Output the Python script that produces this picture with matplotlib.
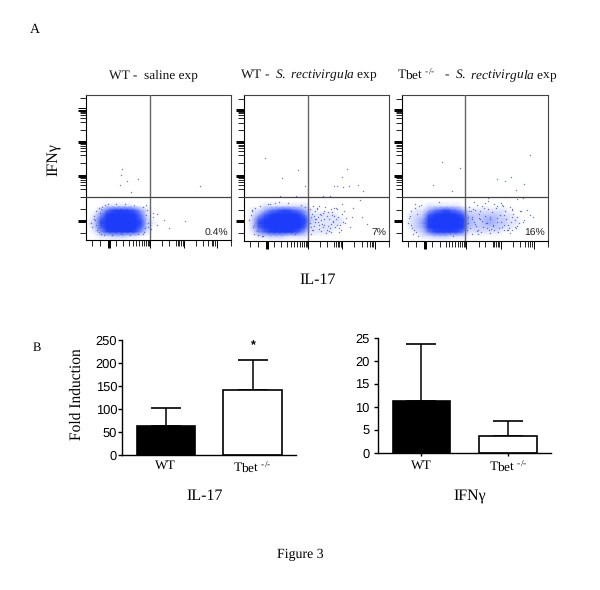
import numpy as np
import matplotlib
matplotlib.use("Agg")
import matplotlib.pyplot as plt
from matplotlib.colors import LinearSegmentedColormap

plt.rcParams['font.family'] = ['Liberation Serif', 'DejaVu Sans']
plt.rcParams['mathtext.fontset'] = 'custom'
plt.rcParams['mathtext.rm'] = 'Liberation Serif'
plt.rcParams['mathtext.it'] = 'Liberation Serif:italic'
plt.rcParams['text.hinting'] = 'none'

W, H = 600, 590

# ---- flow cytometry panels: channel units 0-1000 ----
titles = ['WT -  saline exp',
          r'WT -  $\mathit{S.\ rectivirgula}$ exp',
          r'Tbet $^{\text{-/-}}$   -  $\mathit{S.\ rectivirgula}$ exp']
percent = ['0.4%', '7%', '16%']
gate_x = [439, 440, 430]
gate_y = [297, 297, 297]

density_y = [0, 30, 60, 90, 120, 150, 180, 210, 240, 270]

density_1 = [
    [0,0,0,0,0,0,0,0,0,0,0,0,0],
    [0,0,1,1,2,2,2,1,1,0,0,0,0],
    [0,1,4,7,9,9,9,9,7,4,1,0,0],
    [0,2,6,9,9,9,9,9,9,6,2,0,0],
    [1,2,7,9,9,9,9,9,9,7,2,1,0],
    [0,2,6,9,9,9,9,9,9,6,2,0,0],
    [0,1,4,8,9,9,9,9,8,5,1,0,0],
    [0,0,2,5,7,8,8,7,6,3,1,0,0],
    [0,0,0,1,1,1,1,1,0,0,0,0,0],
    [0,0,0,0,0,0,0,0,0,0,0,0,0],
]
density_2 = [
    [0,0,0,0,0,0,0,0,0,0,0,0,0,0,0,0,0,0,0],
    [0,0,1,1,2,2,2,1,1,1,1,0,0,0,0,0,0,0,0],
    [0,1,4,6,8,9,9,9,8,6,3,1,1,1,1,0,0,0,0],
    [0,2,6,8,9,9,9,9,9,9,6,1,1,1,1,1,0,0,0],
    [0,2,7,9,9,9,9,9,9,9,7,2,1,1,1,1,1,0,0],
    [0,2,6,8,9,9,9,9,9,9,7,2,1,1,1,1,1,0,0],
    [0,1,3,6,8,9,9,9,9,8,5,1,1,1,1,1,0,0,0],
    [0,1,1,3,5,6,7,7,6,5,3,1,0,0,0,0,0,0,0],
    [0,0,0,1,1,1,1,1,1,1,1,0,0,0,0,0,0,0,0],
    [0,0,0,0,0,0,0,0,0,0,0,0,0,0,0,0,0,0,0],
]
density_3 = [
    [0,0,0,0,0,0,0,0,0,0,0,0,0,0,0,0,0,0,0,0,0,0,0],
    [0,0,0,1,1,2,2,2,1,1,1,0,0,0,0,0,0,0,0,0,0,0,0],
    [0,0,1,2,5,7,8,8,8,7,5,1,1,1,1,1,1,0,0,0,0,0,0],
    [0,1,2,3,8,9,9,9,9,9,8,2,2,2,2,2,2,1,1,0,0,0,0],
    [0,1,2,4,8,9,9,9,9,9,8,3,2,2,3,3,2,2,1,1,0,0,0],
    [0,1,2,3,8,9,9,9,9,9,8,3,2,2,3,3,2,2,1,1,0,0,0],
    [0,1,1,2,6,8,9,9,9,8,6,2,2,2,2,2,2,1,1,0,0,0,0],
    [0,0,1,1,3,5,6,7,6,5,3,1,1,1,1,1,1,1,0,0,0,0,0],
    [0,0,0,0,1,1,1,1,1,1,0,0,0,0,0,0,0,0,0,0,0,0,0],
    [0,0,0,0,0,0,0,0,0,0,0,0,0,0,0,0,0,0,0,0,0,0,0],
]
densities = [density_1, density_2, density_3]

dots_x_1 = [244,240,355,233,786,279,306,682,537,486,459,463,440,574,429,486,60,40,70,90,400,420,410,75,100,
            55,35,65,95,85,110,130,125,150,180,205,240,265,300,330,360,395,415,425,405,445,395,55,80,105]
dots_y_1 = [487,449,419,380,373,407,330,130,140,108,185,162,105,82,94,181,140,95,205,225,60,210,240,70,45,
            165,120,105,190,60,230,245,40,250,38,252,42,248,36,246,44,232,175,120,88,75,45,150,85,215]
dots_x_2 = [143,372,257,706,671,418,618,637,683,724,786,821,591,545,246,356,740,809,844,752,798,694,729,671,
            470,500,530,555,590,620,650,480,510,545,575,610,640,690,460,495,530,600,30,60,85,50,75,120,160,210,
            452,466,478,490,505,518,527,542,552,568,583,597,612,626,635,648,662,675,455,472,488,512,536,560,
            585,605,630,655,678,700,462,485,515,548,572,595,618,642,668,458,475,498,522,550,578,602,
            70,95,45,105,130,180,240,300,350,390,420,65,55]
dots_y_2 = [564,486,429,491,440,376,376,372,367,372,383,342,307,303,307,303,165,165,115,222,280,119,96,252,
            75,215,65,230,85,225,60,170,125,95,195,130,110,200,45,150,175,60,140,90,65,200,225,30,250,255,
            120,185,100,205,160,80,140,190,110,170,65,215,135,90,225,160,105,185,215,70,150,235,115,50,
            150,195,145,85,125,155,95,130,105,205,75,115,170,215,70,165,240,225,185,150,100,175,
            45,38,175,235,35,250,262,255,42,245,230,110,210]
dots_x_3 = [275,396,208,343,876,746,705,648,837,780,590,705,785,831,739,522,876,854,899,750,
            460,480,510,540,570,600,630,660,690,720,750,780,810,470,520,560,610,650,700,755,
            790,830,40,70,95,55,85,110,130,495,590,675,350,250,
            448,455,468,478,490,498,505,515,528,535,548,555,565,578,585,595,605,618,625,640,
            648,662,670,682,695,705,715,728,738,745,760,772,785,798,815,835,
            452,475,500,525,550,575,600,625,650,675,700,725,750,775,445,488,532,582,632,682,732,
            60,48,80,100,75,115,60,90]
dots_y_3 = [539,498,383,342,585,440,410,424,388,349,291,300,289,291,50,44,177,211,165,73,
            230,45,245,60,255,52,250,60,235,70,220,85,200,205,75,225,80,240,75,210,
            100,130,120,85,60,170,225,35,245,262,270,260,30,262,
            120,200,85,165,130,210,100,65,185,145,235,90,170,120,215,75,150,195,105,225,
            130,85,175,245,110,200,150,70,230,125,185,95,160,120,205,140,
            160,145,115,155,135,120,165,100,155,130,175,110,165,140,70,215,205,85,70,95,85,
            200,155,70,185,45,240,105,250]
dots_x = [dots_x_1, dots_x_2, dots_x_3]
dots_y = [dots_y_1, dots_y_2, dots_y_3]

x_ticks_long = [147,154,161,440,677,901]
x_ticks_short = [41,94,207,256,297,320,343,364,382,399,412,424,433,523,569,620,631,643,654,666,758,809,843,866,878,889,1000]
y_ticks_long = [906,899,892,682,675,668,449,442,435,140,133,126]
y_ticks_short = [975,885,875,860,840,810,760,660,650,635,615,585,530,428,418,403,383,353,297,213,53]

# ---- bar panels ----
bar_labels = ['WT', r'Tbet $^{\text{-/-}}$']
il17_values = [62, 140]
il17_errors = [40, 65]
ifng_values = [11.4, 3.6]
ifng_errors = [12.2, 3.4]
il17_ticks = [0, 50, 100, 150, 200, 250]
ifng_ticks = [0, 5, 10, 15, 20, 25]
bar_colors = ['black', 'white']

fig = plt.figure(figsize=(6, 5.9), dpi=100)

def px_axes(left, top, right, bottom):
    return fig.add_axes([left / W, 1 - bottom / H, (right - left) / W, (bottom - top) / H])

def px_text(x, y, s, **kw):
    kw.setdefault('ha', 'center')
    kw.setdefault('va', 'center')
    return fig.text(x / W, 1 - y / H, s, **kw)

cmap = LinearSegmentedColormap.from_list('flow', [(0, '#ffffff'), (0.8, '#2a48fb'), (1, '#1c3cfa')])
blue = '#3552f5'
panel_boxes = [(86.3, 94.8, 231, 240.4), (244.3, 95, 389.3, 240.6), (402.3, 95, 548, 240.6)]
title_x = [153, 309, 477]

for i, box in enumerate(panel_boxes):
    ax = px_axes(*box)
    ax.set_xlim(0, 1000)
    ax.set_ylim(0, 1000)
    d = np.array(densities[i], dtype=float)
    xs = [20 + 40 * k for k in range(d.shape[1])]
    ax.pcolormesh(xs, density_y, d, shading='gouraud', cmap=cmap, vmin=0, vmax=9, zorder=1)
    ax.scatter(dots_x[i], dots_y[i], s=1.0, color=blue, alpha=0.8, linewidths=0, zorder=2)
    ax.axvline(gate_x[i], color='#666666', lw=1.0, zorder=3)
    ax.axhline(gate_y[i], color='#444444', lw=0.9, zorder=3)
    for side in ['top', 'right']:
        ax.spines[side].set_color('#444444')
    for s in ax.spines.values():
        s.set_linewidth(0.8)
    ax.set_xticks(x_ticks_long)
    ax.set_xticks(x_ticks_short, minor=True)
    ax.set_yticks(y_ticks_long)
    ax.set_yticks(y_ticks_short, minor=True)
    ax.tick_params(which='major', length=5.8, width=0.7, labelbottom=False, labelleft=False)
    ax.tick_params(which='minor', length=4, width=0.6)
    ax.text(982, 52, percent[i], ha='right', va='center', fontsize=7.5,
            family='Liberation Sans', color='#222222', zorder=4)
    px_text(title_x[i], 75, titles[i], fontsize=9.6, color='#111111')

def bar_panel(box, values, errors, ticks, ymax, x_tick_marks, ypad):
    ax = px_axes(*box)
    ax.bar([0, 1], values, width=0.67, color=bar_colors, edgecolor='black', linewidth=1.2, zorder=2)
    ax.errorbar([0, 1], values, yerr=[[0, 0], errors], fmt='none', ecolor='black',
                elinewidth=1.1, capsize=10.5, capthick=1.2, zorder=1)
    ax.set_xlim(-0.5, 1.5)
    ax.set_ylim(0, ymax)
    ax.set_yticks(ticks)
    ax.set_yticklabels([str(t) for t in ticks], family='Liberation Sans', fontsize=9.3)
    ax.set_xticks([0, 1])
    ax.set_xticklabels(bar_labels, fontsize=9.6)
    ax.tick_params(axis='y', length=3, width=1.0, pad=ypad)
    ax.tick_params(axis='x', length=2.4 if x_tick_marks else 0, width=1.0, pad=2.2 if x_tick_marks else 3.5)
    for s in ['top', 'right']:
        ax.spines[s].set_visible(False)
    for s in ['left', 'bottom']:
        ax.spines[s].set_linewidth(1.0)
    return ax

bar_panel((122.3, 339.7, 296, 455), il17_values, il17_errors, il17_ticks, 250, False, 0.8)
bar_panel((378.3, 338, 551, 453), ifng_values, ifng_errors, ifng_ticks, 25, True, 3.5)

px_text(35, 30, 'A', fontsize=10)
px_text(37, 348, 'B', fontsize=9)
px_text(53, 160, 'IFNγ', fontsize=11.5, rotation=90)
px_text(318, 280, 'IL-17', fontsize=11.5)
px_text(76.5, 394, 'Fold Induction', fontsize=11.2, rotation=90)
px_text(253, 346, '*', fontsize=9, family='Liberation Sans', fontweight='bold')
px_text(205, 496, 'IL-17', fontsize=11.5)
px_text(470, 496, 'IFNγ', fontsize=11.4)
px_text(300, 555, 'Figure 3', fontsize=10)

fig.savefig('out.png', dpi=100)
